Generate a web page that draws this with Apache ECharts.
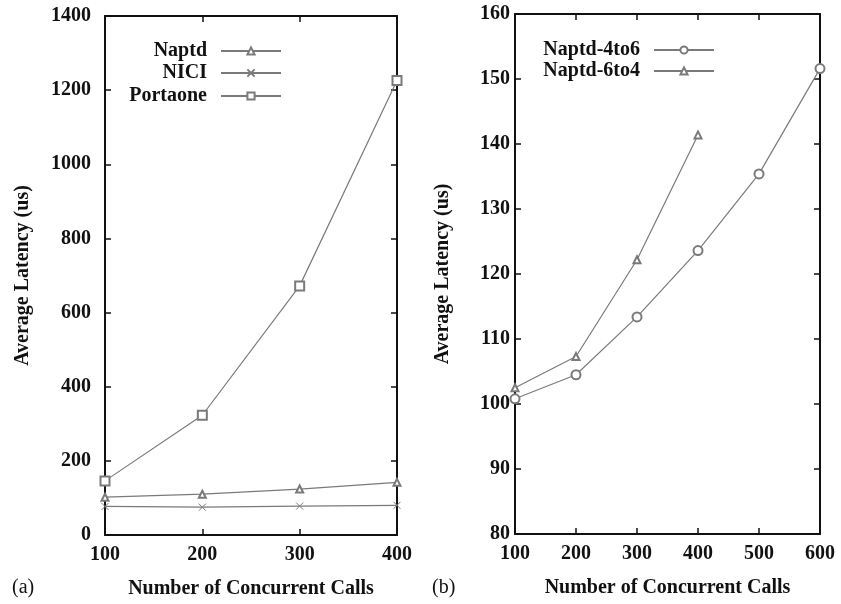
<!DOCTYPE html>
<html>
<head>
<meta charset="utf-8">
<script src="https://cdn.jsdelivr.net/npm/echarts@6/dist/echarts.min.js"></script>
<style>
  html, body { margin: 0; padding: 0; background: #fff; }
  #chart { width: 841px; height: 604px; }
</style>
</head>
<body>
<div id="chart"></div>
<script>
// ---- Data ----
const callsA = [100, 200, 300, 400];
const naptd = [102, 110, 124, 142];
const nici = [77, 75, 78, 80];
const portaone = [146, 323, 672, 1226];

const callsB = [100, 200, 300, 400, 500, 600];
const naptd4to6 = [100.8, 104.5, 113.4, 123.6, 135.4, 151.6];
const naptd6to4 = [102.5, 107.3, 122.2, 141.4];

const yTicksA = [0, 1400, 200];   // min, max, step
const yTicksB = [80, 160, 10];
const xTicksA = [100, 400, 100];
const xTicksB = [100, 600, 100];

// ---- Styles ----
const FONT = '"Liberation Serif", "Times New Roman", serif';
const LINE = '#7a7a7a';
const AX = '#111';
const crossPath = 'path://M0,0L10,10M10,0L0,10';

function pairs(xs, ys) { return ys.map((v, i) => [xs[i], v]); }
const plain = v => String(v);

function xAx(grid, t, pos, labels) {
  return {
    type: 'value', gridIndex: grid, min: t[0], max: t[1], interval: t[2], position: pos,
    axisLine: { show: true, onZero: false, lineStyle: { color: AX, width: 2 } },
    axisTick: { show: true, inside: true, length: 6, lineStyle: { color: AX, width: 1.5 } },
    splitLine: { show: false },
    axisLabel: { show: labels, color: AX, fontFamily: FONT, fontWeight: 'bold', fontSize: 20, margin: 10, formatter: plain },
    name: labels ? 'Number of Concurrent Calls' : '',
    nameLocation: 'middle', nameGap: 44,
    nameTextStyle: { color: AX, fontFamily: FONT, fontWeight: 'bold', fontSize: 20 }
  };
}
function yAx(grid, t, pos, labels, margin, gap) {
  return {
    type: 'value', gridIndex: grid, min: t[0], max: t[1], interval: t[2], position: pos,
    axisLine: { show: true, onZero: false, lineStyle: { color: AX, width: 2 } },
    axisTick: { show: true, inside: true, length: 6, lineStyle: { color: AX, width: 1.5 } },
    splitLine: { show: false },
    axisLabel: { show: labels, color: AX, fontFamily: FONT, fontWeight: 'bold', fontSize: 20, margin: margin, formatter: plain },
    name: labels ? 'Average Latency (us)' : '',
    nameLocation: 'middle', nameGap: gap,
    nameTextStyle: { color: AX, fontFamily: FONT, fontWeight: 'bold', fontSize: 20 }
  };
}

function ser(name, xi, yi, xs, ys, symbol, size) {
  return {
    name: name, type: 'line', xAxisIndex: xi, yAxisIndex: yi,
    data: pairs(xs, ys), symbol: symbol, symbolSize: size,
    showSymbol: true,
    lineStyle: { color: LINE, width: 1.2 },
    itemStyle: { color: LINE, borderColor: LINE, borderWidth: 1 },
    emphasis: { disabled: true },
    animation: false, z: 3
  };
}

function leg(name, right, top) {
  return {
    data: [name], right: right, top: top, orient: 'vertical', align: 'right',
    itemWidth: 60, itemHeight: 9, padding: 0,
    textStyle: { color: AX, fontFamily: FONT, fontWeight: 'bold', fontSize: 20, padding: [0, 9, 0, 0] },
    selectedMode: false
  };
}

const option = {
  backgroundColor: '#fff',
  animation: false,
  grid: [
    { left: 105, top: 16, width: 292, height: 521 },
    { left: 515, top: 14, width: 305, height: 520 }
  ],
  xAxis: [
    xAx(0, xTicksA, 'bottom', true),
    xAx(0, xTicksA, 'top', false),
    xAx(1, xTicksB, 'bottom', true),
    xAx(1, xTicksB, 'top', false)
  ],
  yAxis: [
    yAx(0, yTicksA, 'left', true, 14, 72),
    yAx(0, yTicksA, 'right', false, 8, 10),
    yAx(1, yTicksB, 'left', true, 5, 62),
    yAx(1, yTicksB, 'right', false, 8, 10)
  ],
  legend: [
    leg('Naptd', 841 - 282, 41),
    leg('NICI', 841 - 282, 63),
    leg('Portaone', 841 - 282, 86),
    leg('Naptd-4to6', 841 - 715, 40),
    leg('Naptd-6to4', 841 - 715, 61)
  ],
  series: [
    ser('Naptd', 0, 0, callsA, naptd, 'emptyTriangle', 7),
    ser('NICI', 0, 0, callsA, nici, crossPath, 7),
    ser('Portaone', 0, 0, callsA, portaone, 'emptyRect', 9),
    ser('Naptd-4to6', 2, 2, callsB, naptd4to6, 'emptyCircle', 9),
    ser('Naptd-6to4', 2, 2, callsB, naptd6to4, 'emptyTriangle', 7)
  ],
  graphic: [
    { type: 'text', left: 12, top: 578, style: { text: '(a)', font: '20px ' + FONT, fill: AX } },
    { type: 'text', left: 432, top: 578, style: { text: '(b)', font: '20px ' + FONT, fill: AX } }
  ]
};

const chart = echarts.init(document.getElementById('chart'), null, { renderer: 'canvas' });
chart.setOption(option);
</script>
</body>
</html>
